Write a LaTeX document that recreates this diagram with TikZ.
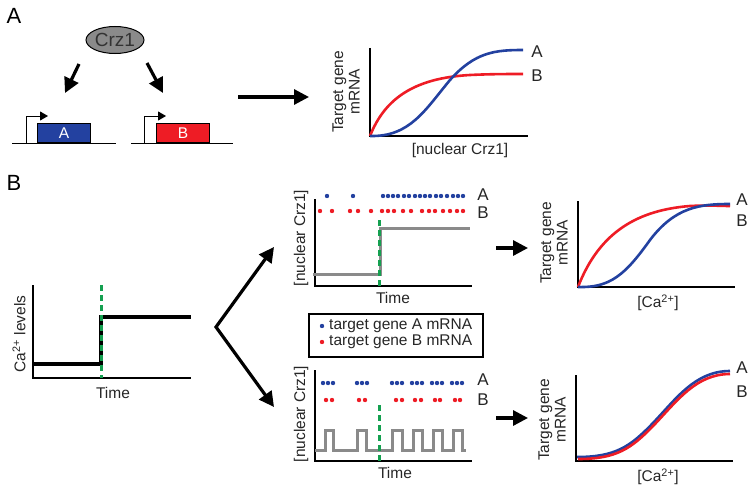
\documentclass[tikz,border=0pt]{standalone}
\usepackage{fontspec}
\setmainfont{Liberation Sans}
\usetikzlibrary{arrows.meta,shapes.geometric}
\definecolor{geneblue}{HTML}{2341A0}
\definecolor{genered}{HTML}{EE1C25}
\definecolor{crzgray}{HTML}{8A8A8A}
\definecolor{markgreen}{HTML}{14A050}
\begin{document}
\begin{tikzpicture}[x=1pt,y=-1pt,
  ax/.style={line width=1.6pt},
  fatarrow/.style={line width=3.2pt,-{Triangle[length=15pt,width=15pt]}},
  tss/.style={line width=1pt,-{Triangle[length=8pt,width=9pt]}},
  lbl/.style={font=\fontsize{15.5}{16.5}\selectfont,text=black!85},
  ylbl/.style={lbl,rotate=90,align=center},
  curvelbl/.style={font=\fontsize{17}{18}\selectfont,text=black!85},
  panel/.style={font=\fontsize{22}{24}\selectfont},
  genebox/.style={draw,line width=1pt,text=white,minimum width=53pt,minimum height=19pt,inner sep=0pt,anchor=south west,font=\fontsize{15.5}{16}\selectfont},
  timeline/.style={markgreen,line width=3pt,dash pattern=on 6pt off 4pt},
  sig/.style={line width=2.6pt}]
\useasboundingbox (0,0) rectangle (754,487);
% ---- A
\node[panel] (labA) at (14,16) {A};
\node[ellipse,draw,line width=1pt,fill=crzgray,minimum width=58pt,minimum height=27pt,inner sep=0pt,font=\fontsize{19}{20}\selectfont,text=black!80] (crz) at (115,40) {Crz1};
\coordinate (ca1) at (79,64);
\coordinate (ca2) at (65,93);
\coordinate (cb1) at (147,63);
\coordinate (cb2) at (163,93);
\draw[fatarrow] (ca1) -- (ca2);
\draw[fatarrow] (cb1) -- (cb2);
% genes
\draw[line width=1pt] (12,143) -- (116,143);
\node[genebox,fill=geneblue] (geneA) at (37,143) {A};
\draw[tss] (26,143) -- (26,116) -- (48,116);
\draw[line width=1pt] (131,143) -- (233,143);
\node[genebox,fill=genered] (geneB) at (156,143) {B};
\draw[tss] (144,143) -- (144,116) -- (166,116);
\coordinate (ga) at (238,97);
\coordinate (gb) at (309,97);
\draw[fatarrow] (ga) -- (gb);
% dose response
\draw[ax] (370,48) -- (370,136) -- (528,136);
\draw[sig,genered] (370,136) .. controls (385,98) and (415,78) .. (470,75) .. controls (490,74) and (510,74) .. (523,74);
\draw[sig,geneblue] (370,136) .. controls (410,137) and (425,110) .. (450,80) .. controls (475,52) and (495,50) .. (523,50);
\node[curvelbl] (ptA) at (537,52) {A};
\node[curvelbl] (ptB) at (537,76) {B};
\node[lbl] (xA) at (460,150) {[nuclear Crz1]};
\node[ylbl] (yA) at (346,92) {Target gene\\mRNA};
% ---- B
\node[panel] (labB) at (14,183) {B};
\draw[ax] (33,285) -- (33,378) -- (191,378);
\draw[line width=3.3pt] (33,364) -- (101,364) -- (101,317) -- (191,317);
\draw[timeline] (101,285) -- (101,378);
\node[lbl] (tCa) at (113,393) {Time};
\node[ylbl] (yCa) at (19,334) {Ca\textsuperscript{2+} levels};
\coordinate (fork) at (216,327);
\coordinate (up) at (274,247);
\coordinate (dn) at (274,407);
\draw[line width=3.2pt,{Triangle[length=15pt,width=15pt]}-{Triangle[length=15pt,width=15pt]}] (up) -- (fork) -- (dn);
% steady
\draw[ax] (315,199) -- (315,286) -- (472,286);
\foreach \x in {327,353,383,388,393,398,404,409,415,420,425,430,436,441,447,453,458,463}
  \fill[geneblue] (\x,196) circle [radius=2.2pt];
\foreach \x in {320,332,350,358,371,382,388,394,403,411,422,429,435,443,450,457,463}
  \fill[genered] (\x,211) circle [radius=2.2pt];
\draw[crzgray,line width=3pt] (313,274) -- (380,274) -- (380,228) -- (470,228);
\draw[timeline] (379,220) -- (379,286);
\node[curvelbl] (stA) at (483,195) {A};
\node[curvelbl] (stB) at (483,213) {B};
\node[lbl] (tSt) at (393,298) {Time};
\node[ylbl] (ySt) at (301,238) {[nuclear Crz1]};
% legend
\node[draw,line width=1.2pt,minimum width=174pt,minimum height=43pt] (key) at (396,335.5) {};
\fill[geneblue] (322,326) circle [radius=2.2pt];
\fill[genered] (322,342) circle [radius=2.2pt];
\node[lbl,anchor=west,inner sep=0pt] (keyA) at (329,326) {target gene A mRNA};
\node[lbl,anchor=west,inner sep=0pt] (keyB) at (329,342) {target gene B mRNA};
% pulsed
\draw[ax] (315,370) -- (315,461) -- (472,461);
\foreach \x in {323,328,333,357,362,367,392,397,402,412,417,422,432,437,442,452,457,462}
  \fill[geneblue] (\x,383) circle [radius=2.2pt];
\foreach \x in {326,332,359,365,396,402,415,421,435,440,455,460}
  \fill[genered] (\x,400) circle [radius=2.2pt];
\draw[crzgray,line width=3pt] (315,450)
  \foreach \a/\b in {325/333,357/366,392/402,413/422,433/442,453/462} { -- (\a,450) -- (\a,430) -- (\b,430) -- (\b,450) } -- (466,450);
\draw[timeline] (379,405) -- (379,461);
\node[curvelbl] (puA) at (483,380) {A};
\node[curvelbl] (puB) at (483,400) {B};
\node[lbl] (tPu) at (395,473) {Time};
\node[ylbl] (yPu) at (301,414) {[nuclear Crz1]};
% outputs
\coordinate (o1) at (496,248);
\coordinate (o2) at (528,248);
\coordinate (o3) at (496,418);
\coordinate (o4) at (528,418);
\draw[fatarrow] (o1) -- (o2);
\draw[fatarrow] (o3) -- (o4);
\draw[ax] (578,201) -- (578,287) -- (735,287);
\draw[sig,genered] (578,287) .. controls (600,230) and (640,210) .. (690,206) .. controls (710,205) and (720,206) .. (730,206);
\draw[sig,geneblue] (578,287) .. controls (610,288) and (625,275) .. (650,240) .. controls (675,207) and (700,204) .. (730,204);
\node[curvelbl] (rtA) at (742,200) {A};
\node[curvelbl] (rtB) at (742,221) {B};
\node[lbl] (xRt) at (658,303) {[Ca\textsuperscript{2+}]};
\node[ylbl] (yRt) at (554,243) {Target gene\\mRNA};
\draw[ax] (576,375) -- (576,461) -- (733,461);
\draw[sig,geneblue] (577,457) .. controls (615,457) and (630,447) .. (653,423) .. controls (676,399) and (695,371) .. (730,371);
\draw[sig,genered] (578,459) .. controls (616,459) and (631,449) .. (654,425) .. controls (677,401) and (696,374) .. (730,374);
\node[curvelbl] (rbA) at (742,368) {A};
\node[curvelbl] (rbB) at (742,392) {B};
\node[lbl] (xRb) at (658,477) {[Ca\textsuperscript{2+}]};
\node[ylbl] (yRb) at (552,420) {Target gene\\mRNA};
\end{tikzpicture}
\end{document}
